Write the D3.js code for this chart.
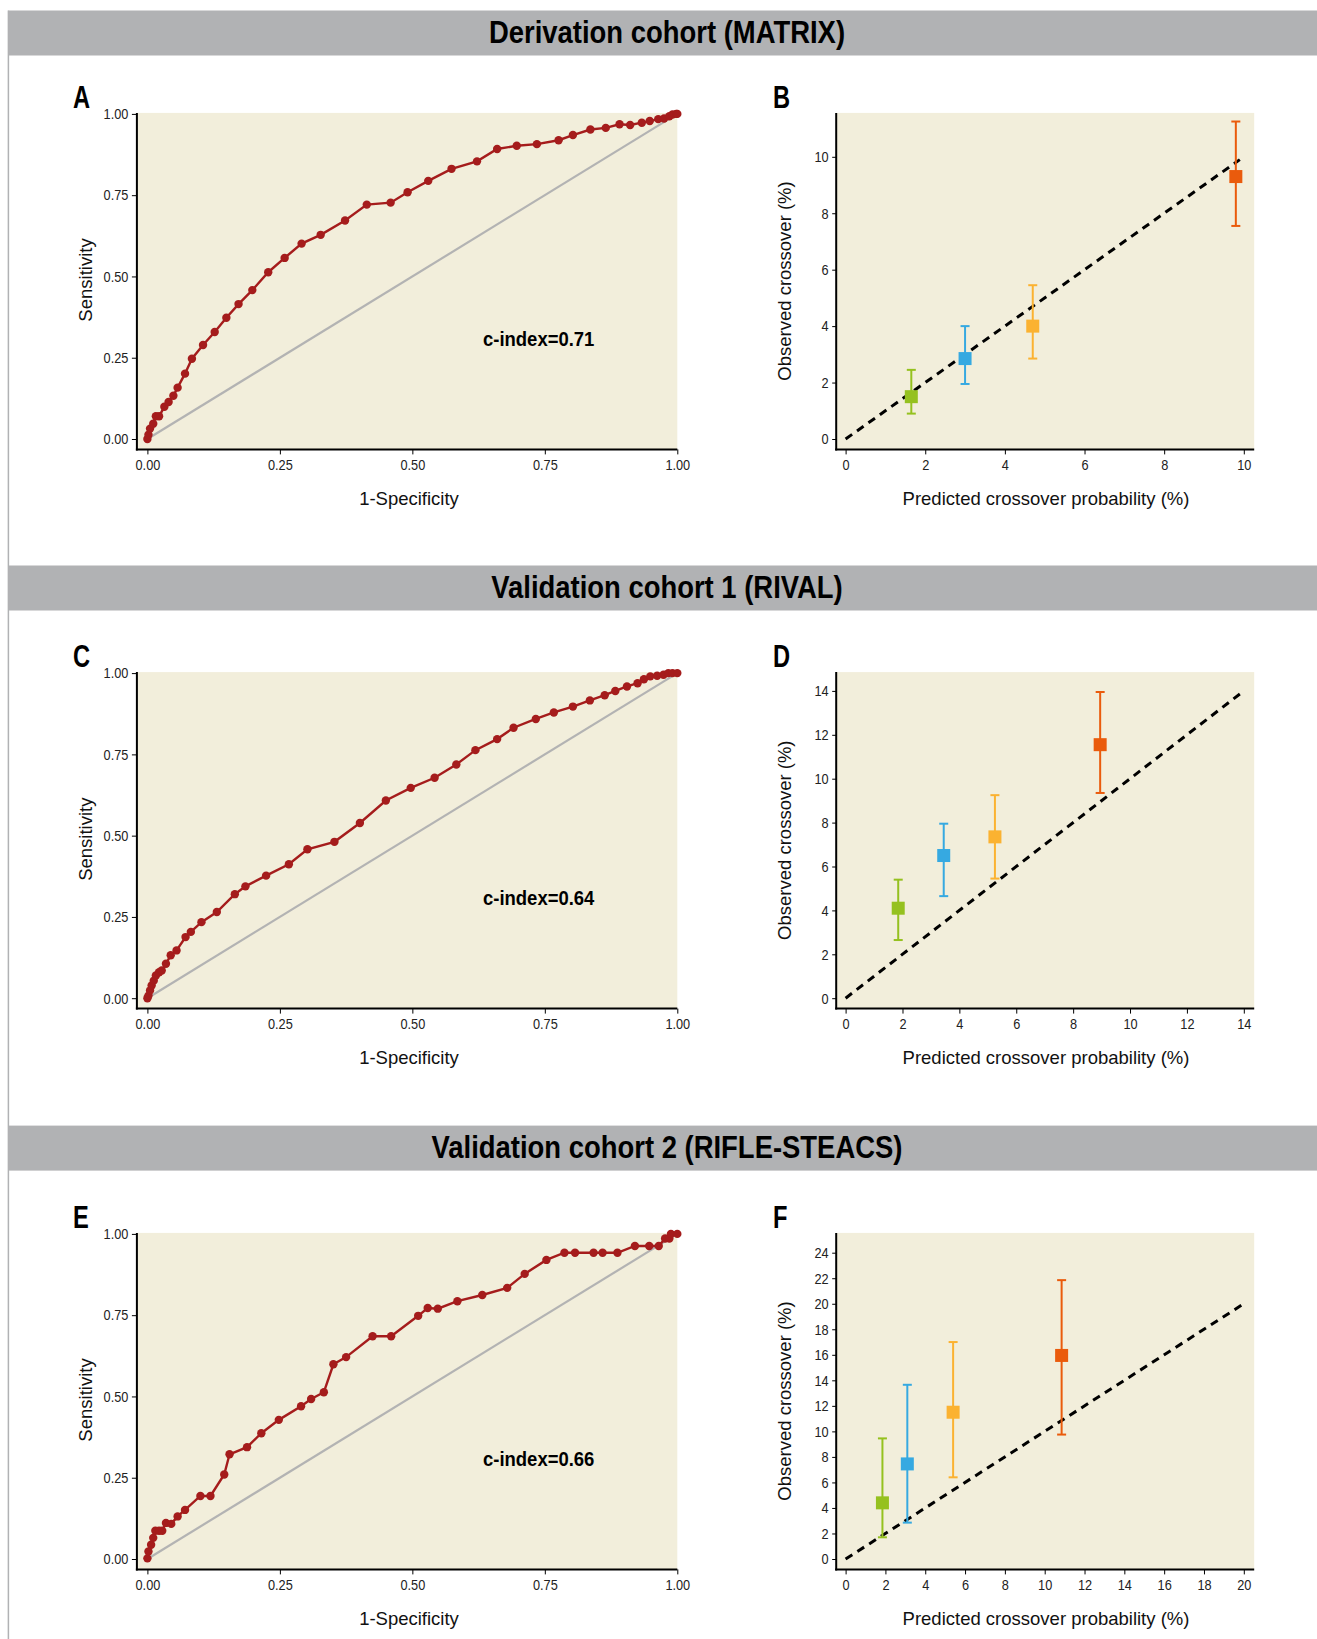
<!DOCTYPE html>
<html>
<head>
<meta charset="utf-8">
<script src="https://cdn.jsdelivr.net/npm/d3@7"></script>
<style>
	body{margin:0;background:#fff;}
	.header{fill:#b1b2b4;}
	.title{font-family:"Liberation Sans",Arial,sans-serif;font-weight:bold;font-size:31px;text-anchor:middle;fill:#000;}
	.letter{font-family:"Liberation Sans",Arial,sans-serif;font-weight:bold;font-size:32px;fill:#000;}
	.bg{fill:#f2eedb;}
	.axisLine{stroke:#000;stroke-width:2;}
	.tick text{font-family:"Liberation Sans",Arial,sans-serif;font-size:15px;fill:#222;}
	.tick line{stroke:#000;}
	.axisTitle{font-family:"Liberation Sans",Arial,sans-serif;font-size:18.5px;text-anchor:middle;fill:#111;}
	.cindex{font-family:"Liberation Sans",Arial,sans-serif;font-weight:bold;font-size:21px;fill:#000;}
</style>
</head>
<body>
<script>
//panel headers
var cohortTitles = ["Derivation cohort (MATRIX)", "Validation cohort 1 (RIVAL)", "Validation cohort 2 (RIFLE-STEACS)"];
var panelLetters = [["A", "B"], ["C", "D"], ["E", "F"]];

//ROC tick values
var rocTicks = [0, 0.25, 0.5, 0.75, 1];

//ROC curves, [1-specificity, sensitivity]
var rocA = [[0,0],[0.002,0.013],[0.005,0.032],[0.011,0.047],[0.016,0.07],[0.022,0.07],[0.032,0.099],[0.04,0.114],[0.049,0.133],[0.057,0.158],[0.071,0.201],[0.084,0.247],[0.105,0.289],[0.127,0.329],[0.149,0.373],[0.172,0.415],[0.198,0.458],[0.228,0.513],[0.259,0.557],[0.291,0.601],[0.327,0.628],[0.373,0.672],[0.414,0.721],[0.459,0.727],[0.491,0.759],[0.53,0.794],[0.574,0.831],[0.622,0.854],[0.66,0.892],[0.697,0.902],[0.735,0.907],[0.776,0.919],[0.803,0.935],[0.836,0.952],[0.865,0.957],[0.891,0.968],[0.911,0.966],[0.933,0.973],[0.948,0.978],[0.964,0.984],[0.975,0.986],[0.985,0.993],[0.991,0.998],[0.998,1],[1,1]];
var rocC = [[0,0],[0.002,0.008],[0.005,0.024],[0.008,0.039],[0.012,0.054],[0.016,0.07],[0.022,0.08],[0.027,0.085],[0.035,0.106],[0.044,0.132],[0.055,0.147],[0.072,0.188],[0.082,0.204],[0.102,0.234],[0.131,0.265],[0.165,0.32],[0.185,0.344],[0.224,0.377],[0.267,0.412],[0.302,0.458],[0.353,0.481],[0.401,0.539],[0.45,0.608],[0.497,0.647],[0.542,0.678],[0.583,0.719],[0.619,0.763],[0.66,0.797],[0.691,0.832],[0.733,0.859],[0.767,0.879],[0.803,0.897],[0.835,0.916],[0.863,0.932],[0.883,0.945],[0.905,0.959],[0.925,0.969],[0.937,0.981],[0.949,0.99],[0.962,0.992],[0.974,0.995],[0.983,1],[0.991,1],[1,1]];
var rocE = [[0,0.002],[0.002,0.023],[0.007,0.044],[0.011,0.065],[0.015,0.087],[0.022,0.087],[0.028,0.087],[0.035,0.111],[0.045,0.108],[0.057,0.131],[0.071,0.151],[0.1,0.194],[0.119,0.194],[0.145,0.26],[0.155,0.322],[0.188,0.344],[0.215,0.387],[0.248,0.428],[0.29,0.47],[0.309,0.492],[0.333,0.513],[0.351,0.599],[0.375,0.621],[0.425,0.685],[0.46,0.685],[0.511,0.748],[0.529,0.772],[0.548,0.77],[0.585,0.793],[0.632,0.812],[0.679,0.834],[0.712,0.877],[0.753,0.92],[0.787,0.942],[0.807,0.942],[0.842,0.942],[0.859,0.942],[0.887,0.942],[0.92,0.963],[0.947,0.963],[0.965,0.963],[0.977,0.986],[0.985,0.986],[0.988,1],[1,1]];
var cIndex = ["c-index=0.71", "c-index=0.64", "c-index=0.66"];

//calibration: predicted vs observed crossover (%) by risk group
var calB_pred = [1.65, 3.0, 4.7, 9.8];
var calB_obs = [1.5, 2.85, 4.0, 9.3];
var calB_lo = [0.9, 1.95, 2.85, 7.55];
var calB_hi = [2.45, 4.0, 5.45, 11.25];

var calD_pred = [1.85, 3.45, 5.25, 8.95];
var calD_obs = [4.1, 6.5, 7.35, 11.55];
var calD_lo = [2.65, 4.65, 5.45, 9.35];
var calD_hi = [5.4, 7.95, 9.25, 13.95];

var calF_pred = [1.85, 3.1, 5.4, 10.85];
var calF_obs = [4.4, 7.45, 11.5, 15.95];
var calF_lo = [1.7, 2.85, 6.4, 9.75];
var calF_hi = [9.45, 13.65, 17.0, 21.85];

//calibration tick values
var calB_xTicks = [0, 2, 4, 6, 8, 10], calB_yTicks = [0, 2, 4, 6, 8, 10];
var calD_xTicks = [0, 2, 4, 6, 8, 10, 12, 14], calD_yTicks = [0, 2, 4, 6, 8, 10, 12, 14];
var calF_xTicks = [0, 2, 4, 6, 8, 10, 12, 14, 16, 18, 20], calF_yTicks = [0, 2, 4, 6, 8, 10, 12, 14, 16, 18, 20, 22, 24];

//end of the identity line in each calibration plot
var diagEnd = [9.9, 14, 20];

var groupColors = ["#95c11f", "#36a9e1", "#fbb231", "#ea5b0c"];

window.onload = drawFigure();

function drawFigure(){

	var width = 1317,
		height = 1639;

	var svg = d3.select("body")
		.append("svg")
		.attr("width", width)
		.attr("height", height);

	//row offsets and header bands
	var rowY = [0, 559.2, 1120],
		headerY = [10.5, 565.5, 1125.6];

	//left border line
	svg.append("line")
		.attr("x1", 8.4).attr("x2", 8.4)
		.attr("y1", 10.5).attr("y2", height)
		.attr("stroke", "#b1b2b4")
		.attr("stroke-width", 1.5);

	headerY.forEach(function(y, i){
		svg.append("rect")
			.attr("class", "header")
			.attr("x", 8.4).attr("y", y)
			.attr("width", width - 8.4).attr("height", 45);
		//condensed bold heading
		svg.append("text")
			.attr("class", "title")
			.attr("transform", "translate(667," + (y + 32.5) + ") scale(0.885,1)")
			.text(cohortTitles[i]);
	});

	var rocs = [rocA, rocC, rocE];
	var cals = [
		{pred: calB_pred, obs: calB_obs, lo: calB_lo, hi: calB_hi, xt: calB_xTicks, yt: calB_yTicks, yTopPix: 156.8},
		{pred: calD_pred, obs: calD_obs, lo: calD_lo, hi: calD_hi, xt: calD_xTicks, yt: calD_yTicks, yTopPix: 131.7},
		{pred: calF_pred, obs: calF_obs, lo: calF_lo, hi: calF_hi, xt: calF_xTicks, yt: calF_yTicks, yTopPix: 132.7}
	];

	rowY.forEach(function(oy, i){
		var row = svg.append("g").attr("transform", "translate(0," + oy + ")");
		drawRoc(row, rocs[i], cIndex[i], panelLetters[i][0]);
		drawCal(row, cals[i], diagEnd[i], panelLetters[i][1]);
	});
};

//strip d3's default axis styling so the css applies, and condense tick labels
function cleanAxis(a){
	a.select(".domain").remove();
	a.selectAll("text")
		.attr("font-family", null)
		.attr("font-size", null)
		.attr("transform", "scale(0.85,1)");
};

//ROC panel (left column)
function drawRoc(g, data, label, letter){

	var left = 136.9, right = 677.3, top = 112.9, bottom = 449.4;

	var x = d3.scaleLinear().domain([0, 1]).range([147.4, 677.3]);
	var y = d3.scaleLinear().domain([0, 1]).range([439, 113.9]);

	g.append("rect").attr("class", "bg")
		.attr("x", left).attr("y", top)
		.attr("width", right - left).attr("height", bottom - top);

	g.append("text").attr("class", "letter")
		.attr("transform", "translate(73,108) scale(0.74,1)").text(letter);

	//reference diagonal
	g.append("line")
		.attr("x1", x(0)).attr("y1", y(0))
		.attr("x2", x(1)).attr("y2", y(1))
		.attr("stroke", "#b3b3b3")
		.attr("stroke-width", 2.2);

	var line = d3.line()
		.x(function(d){ return x(d[0]); })
		.y(function(d){ return y(d[1]); });

	g.append("path")
		.datum(data)
		.attr("d", line)
		.attr("fill", "none")
		.attr("stroke", "#a51c1c")
		.attr("stroke-width", 2.4);

	g.selectAll(".rocPt")
		.data(data)
		.enter()
		.append("circle")
		.attr("class", "rocPt")
		.attr("cx", function(d){ return x(d[0]); })
		.attr("cy", function(d){ return y(d[1]); })
		.attr("r", 4.2)
		.attr("fill", "#a51c1c");

	//axes
	var yAxis = d3.axisLeft(y).tickValues(rocTicks).tickSize(5).tickPadding(5).tickFormat(d3.format(".2f"));
	var xAxis = d3.axisBottom(x).tickValues(rocTicks).tickSize(5).tickPadding(5).tickFormat(d3.format(".2f"));

	g.append("g").attr("transform", "translate(" + left + ",0)").call(yAxis).call(cleanAxis);
	g.append("g").attr("transform", "translate(0," + bottom + ")").call(xAxis).call(cleanAxis);

	g.append("line").attr("class", "axisLine")
		.attr("x1", left).attr("x2", left).attr("y1", top).attr("y2", bottom + 1);
	g.append("line").attr("class", "axisLine")
		.attr("x1", left - 1).attr("x2", right).attr("y1", bottom).attr("y2", bottom);

	g.append("text").attr("class", "axisTitle")
		.attr("transform", "translate(92,280) rotate(-90)")
		.text("Sensitivity");
	g.append("text").attr("class", "axisTitle")
		.attr("x", 409).attr("y", 505)
		.text("1-Specificity");

	g.append("text").attr("class", "cindex")
		.attr("transform", "translate(483,346) scale(0.88,1)")
		.text(label);
};

//calibration panel (right column)
function drawCal(g, c, dEnd, letter){

	var left = 836.2, right = 1254.2, top = 112.9, bottom = 449.4;
	var xMax = c.xt[c.xt.length - 1], yMax = c.yt[c.yt.length - 1];

	var x = d3.scaleLinear().domain([0, xMax]).range([845.6, 1243.8]);
	var y = d3.scaleLinear().domain([0, yMax]).range([439, c.yTopPix]);

	g.append("rect").attr("class", "bg")
		.attr("x", left).attr("y", top)
		.attr("width", right - left).attr("height", bottom - top);

	g.append("text").attr("class", "letter")
		.attr("transform", "translate(773,108) scale(0.74,1)").text(letter);

	//identity line
	g.append("line")
		.attr("x1", x(0)).attr("y1", y(0))
		.attr("x2", x(dEnd)).attr("y2", y(dEnd))
		.attr("stroke", "#000")
		.attr("stroke-width", 3)
		.attr("stroke-dasharray", "8,6");

	var groups = c.pred.map(function(p, i){
		return {p: p, o: c.obs[i], lo: c.lo[i], hi: c.hi[i], color: groupColors[i]};
	});

	var grp = g.selectAll(".calGroup")
		.data(groups)
		.enter()
		.append("g")
		.attr("class", "calGroup");

	grp.append("line")
		.attr("x1", function(d){ return x(d.p); })
		.attr("x2", function(d){ return x(d.p); })
		.attr("y1", function(d){ return y(d.lo); })
		.attr("y2", function(d){ return y(d.hi); })
		.attr("stroke", function(d){ return d.color; })
		.attr("stroke-width", 2);

	//caps of the error bars
	["lo", "hi"].forEach(function(k){
		grp.append("line")
			.attr("x1", function(d){ return x(d.p) - 4.5; })
			.attr("x2", function(d){ return x(d.p) + 4.5; })
			.attr("y1", function(d){ return y(d[k]); })
			.attr("y2", function(d){ return y(d[k]); })
			.attr("stroke", function(d){ return d.color; })
			.attr("stroke-width", 2);
	});

	grp.append("rect")
		.attr("x", function(d){ return x(d.p) - 6.5; })
		.attr("y", function(d){ return y(d.o) - 6.5; })
		.attr("width", 13)
		.attr("height", 13)
		.attr("fill", function(d){ return d.color; });

	//axes
	var yAxis = d3.axisLeft(y).tickValues(c.yt).tickSize(4).tickPadding(5);
	var xAxis = d3.axisBottom(x).tickValues(c.xt).tickSize(5).tickPadding(5);

	g.append("g").attr("transform", "translate(" + left + ",0)").call(yAxis).call(cleanAxis);
	g.append("g").attr("transform", "translate(0," + bottom + ")").call(xAxis).call(cleanAxis);

	g.append("line").attr("class", "axisLine")
		.attr("x1", left).attr("x2", left).attr("y1", top).attr("y2", bottom + 1);
	g.append("line").attr("class", "axisLine")
		.attr("x1", left - 1).attr("x2", right).attr("y1", bottom).attr("y2", bottom);

	g.append("text").attr("class", "axisTitle")
		.attr("transform", "translate(791,281) rotate(-90)")
		.text("Observed crossover (%)");
	g.append("text").attr("class", "axisTitle")
		.attr("x", 1046).attr("y", 505)
		.text("Predicted crossover probability (%)");
};
</script>
</body>
</html>
